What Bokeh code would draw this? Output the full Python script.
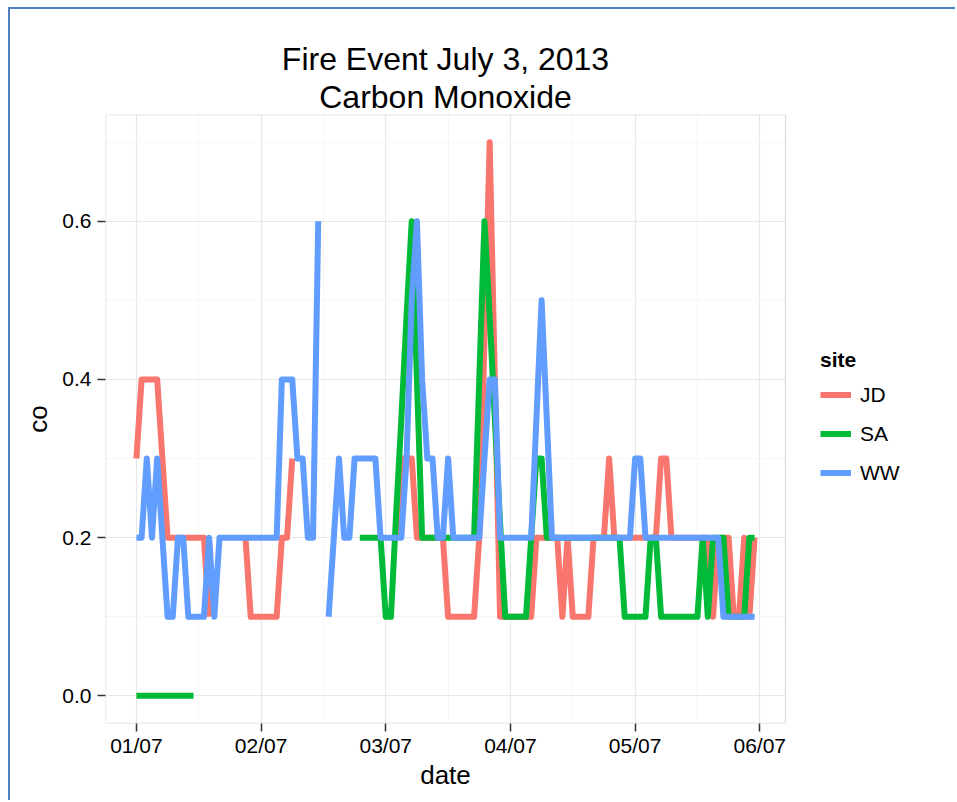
import numpy as np
import pandas as pd
from bokeh.plotting import figure
from bokeh.models import (ColumnDataSource, Range1d, FixedTicker, DatetimeTickFormatter,
                          PrintfTickFormatter, Legend, LegendItem, Title, BoxAnnotation)
from bokeh.embed import file_html
from bokeh.resources import INLINE

NA = np.nan

# ---------------- data (hourly CO readings, 1-5 July 2013) ----------------
start_time = "2013-07-01 00:00"
n_hours = 120

JD = [0.3, 0.4, 0.4, 0.4, 0.4, 0.3, 0.2, 0.2, 0.2, 0.2,
      0.2, 0.2, 0.2, 0.2, 0.1, NA, NA, NA, NA, NA,
      NA, 0.2, 0.1, 0.1, 0.1, 0.1, 0.1, 0.1, 0.2, 0.2,
      0.3, NA, NA, NA, NA, NA, NA, NA, NA, NA,
      NA, NA, NA, NA, NA, NA, NA, NA, NA, NA,
      0.2, 0.3, 0.3, 0.3, 0.2, 0.2, 0.2, 0.2, 0.2, 0.2,
      0.1, 0.1, 0.1, 0.1, 0.1, 0.1, 0.2, 0.45, 0.7, 0.4,
      0.1, 0.1, 0.1, 0.1, 0.1, 0.1, 0.1, 0.2, 0.2, 0.2,
      0.2, 0.2, 0.1, 0.2, 0.1, 0.1, 0.1, 0.1, 0.2, 0.2,
      0.2, 0.3, 0.2, 0.2, 0.2, 0.2, 0.2, 0.2, 0.2, 0.2,
      0.2, 0.3, 0.3, 0.2, 0.2, 0.2, 0.2, 0.2, 0.2, 0.2,
      0.2, 0.1, 0.2, 0.2, 0.2, 0.1, 0.1, 0.2, 0.1, 0.2]

SA = [0.0, 0.0, 0.0, 0.0, 0.0, 0.0, 0.0, 0.0, 0.0, 0.0,
      0.0, 0.0, NA, NA, NA, NA, NA, NA, NA, NA,
      NA, NA, NA, NA, NA, NA, NA, NA, NA, NA,
      NA, NA, NA, NA, NA, NA, NA, NA, NA, NA,
      NA, NA, NA, 0.2, 0.2, 0.2, 0.2, 0.2, 0.1, 0.1,
      0.23, 0.35, 0.48, 0.6, 0.4, 0.2, 0.2, 0.2, 0.2, 0.2,
      0.2, 0.2, 0.2, 0.2, 0.2, 0.2, 0.4, 0.6, 0.48, 0.35,
      0.22, 0.1, 0.1, 0.1, 0.1, 0.1, 0.2, 0.3, 0.3, 0.2,
      0.2, 0.2, 0.2, 0.2, 0.2, 0.2, 0.2, 0.2, 0.2, 0.2,
      0.2, 0.2, 0.2, 0.2, 0.1, 0.1, 0.1, 0.1, 0.1, 0.2,
      0.2, 0.1, 0.1, 0.1, 0.1, 0.1, 0.1, 0.1, 0.1, 0.2,
      0.1, 0.2, 0.2, 0.2, 0.1, 0.1, 0.1, 0.1, 0.2, 0.2]

WW = [0.2, 0.2, 0.3, 0.2, 0.3, 0.2, 0.1, 0.1, 0.2, 0.2,
      0.1, 0.1, 0.1, 0.1, 0.2, 0.1, 0.2, 0.2, 0.2, 0.2,
      0.2, 0.2, 0.2, 0.2, 0.2, 0.2, 0.2, 0.2, 0.4, 0.4,
      0.4, 0.3, 0.3, 0.2, 0.2, 0.6, NA, 0.1, 0.2, 0.3,
      0.2, 0.2, 0.3, 0.3, 0.3, 0.3, 0.3, 0.2, 0.2, 0.2,
      0.2, 0.2, 0.3, 0.5, 0.6, 0.4, 0.3, 0.3, 0.2, 0.2,
      0.3, 0.2, 0.2, 0.2, 0.2, 0.2, 0.2, 0.3, 0.4, 0.4,
      0.2, 0.2, 0.2, 0.2, 0.2, 0.2, 0.2, 0.35, 0.5, 0.35,
      0.2, 0.2, 0.2, 0.2, 0.2, 0.2, 0.2, 0.2, 0.2, 0.2,
      0.2, 0.2, 0.2, 0.2, 0.2, 0.2, 0.3, 0.3, 0.2, 0.2,
      0.2, 0.2, 0.2, 0.2, 0.2, 0.2, 0.2, 0.2, 0.2, 0.2,
      0.2, 0.2, 0.2, 0.1, 0.1, 0.1, 0.1, 0.1, 0.1, 0.1]

sites = ["JD", "SA", "WW"]
site_colors = ["#F8766D", "#00BA38", "#619CFF"]
title_line1 = "Fire Event July 3, 2013"
title_line2 = "Carbon Monoxide"
x_label = "date"
y_label = "co"
legend_title = "site"
y_major = [0.0, 0.2, 0.4, 0.6]
y_minor = [0.1, 0.3, 0.5, 0.7]

# ---------------- build ----------------
times = pd.date_range(start_time, periods=n_hours, freq="h")
src = ColumnDataSource(dict(time=times, JD=JD, SA=SA, WW=WW))

t_ms = times.asi8 // 10**6
t_min, t_max = float(t_ms.min()), float(t_ms.max())
xpad = 0.05 * (t_max - t_min)
panel_x0, panel_x1 = t_min - xpad, t_max + xpad          # ggplot-style padded panel
vals = np.array(JD + SA + WW, dtype=float)
y_lo, y_hi = np.nanmin(vals), np.nanmax(vals)
ypad = 0.05 * (y_hi - y_lo)

days = pd.date_range(times[0].normalize(), times[-1].normalize() + pd.Timedelta(days=1), freq="D")
x_major = list((days.asi8 // 10**6).astype(float))
x_minor = list(((days + pd.Timedelta(hours=12)).asi8 // 10**6).astype(float))

FONT = "Liberation Sans"
EDGE = "#4F81BD"

# canvas geometry: the frame also holds the legend strip on its right
W, H = 947, 793
LEFT, TOP, BOTTOM = 95, 105, 79
PANEL_W = 680                       # width of the data panel in pixels
FRAME_W = W - LEFT
x_end = panel_x0 + (panel_x1 - panel_x0) * FRAME_W / PANEL_W

# approximate text widths (Liberation Sans advance widths) to centre texts on the panel
ADV = {"F": .611, "i": .222, "r": .333, "e": .556, " ": .278, "E": .667, "v": .5, "n": .556,
       "t": .278, "J": .5, "u": .556, "l": .222, "y": .5, "3": .556, ",": .278, "2": .556,
       "0": .556, "1": .556, "C": .722, "a": .556, "b": .556, "o": .556, "M": .833, "x": .5,
       "d": .556}


def centred_offset(text, size):
    w = sum(ADV.get(ch, .556) for ch in text) * size
    return PANEL_W / 2 - w / 2


p = figure(width=W, height=H, x_axis_type="datetime",
           x_range=Range1d(panel_x0, x_end),
           y_range=Range1d(y_lo - ypad, y_hi + ypad),
           output_backend="svg", toolbar_location=None,
           min_border_left=LEFT, min_border_right=0, min_border_top=TOP, min_border_bottom=BOTTOM,
           background_fill_color="white", border_fill_color="white",
           styles={"margin-left": "8px", "margin-top": "7px",
                   "border-left": f"2px solid {EDGE}", "border-top": f"2px solid {EDGE}"})
p.outline_line_color = None

p.title.text = title_line1
p.title.text_font = FONT
p.title.text_font_size = "32px"
p.title.text_font_style = "normal"
p.title.text_color = "black"
p.title.align = "left"
p.title.standoff = 0
p.title.offset = centred_offset(title_line1, 32)
p.title.text_line_height = 0.95
p.add_layout(Title(text=title_line2, text_font=FONT, text_font_size="32px",
                   text_font_style="normal", text_color="black", align="left",
                   standoff=0, offset=centred_offset(title_line2, 32),
                   text_line_height=0.95), "above")

# grids
for g in (p.xgrid, p.ygrid):
    g.grid_line_color = "#E8E8E8"
    g.grid_line_width = 1.2
    g.minor_grid_line_color = "#F6F6F6"
    g.minor_grid_line_width = 1.2

p.xaxis.ticker = FixedTicker(ticks=x_major, minor_ticks=x_minor)
p.yaxis.ticker = FixedTicker(ticks=y_major, minor_ticks=y_minor)
p.xaxis.bounds = (panel_x0, panel_x1)
fmt = "%d/%m"
p.xaxis.formatter = DatetimeTickFormatter(milliseconds=fmt, seconds=fmt, minsec=fmt, minutes=fmt,
                                          hourmin=fmt, hours=fmt, days=fmt, months=fmt, years=fmt)
p.yaxis.formatter = PrintfTickFormatter(format="%.1f")
p.yaxis.axis_label = y_label

for ax in (p.xaxis, p.yaxis):
    ax.axis_line_color = None
    ax.major_tick_line_color = "#333333"
    ax.major_tick_line_width = 1.5
    ax.major_tick_out = 8
    ax.major_tick_in = 0
    ax.minor_tick_out = 0
    ax.minor_tick_in = 0
    ax.minor_tick_line_color = None
    ax.major_label_text_font = FONT
    ax.major_label_text_font_size = "21px"
    ax.major_label_text_color = "black"
    ax.axis_label_text_font = FONT
    ax.axis_label_text_font_size = "26px"
    ax.axis_label_text_font_style = "normal"
    ax.axis_label_text_color = "black"
p.xaxis.major_label_standoff = 2
p.yaxis.major_label_standoff = 6
p.yaxis.axis_label_standoff = 6

# x-axis title, centred under the data panel
p.add_layout(Title(text=x_label, text_font=FONT, text_font_size="26px",
                   text_font_style="normal", text_color="black", align="left",
                   standoff=-3, offset=centred_offset(x_label, 26)), "below")

renderers = []
for s, c in zip(sites, site_colors):
    r = p.line(x="time", y=s, source=src, line_color=c, line_width=6,
               line_join="round", line_cap="butt")
    renderers.append(r)

# white strip right of the data panel (legend area) and the grey panel border
p.add_layout(BoxAnnotation(left=panel_x1, fill_color="white", fill_alpha=1, line_color=None))
p.add_layout(BoxAnnotation(left=panel_x0, right=panel_x1, fill_alpha=0,
                           line_color="#8C8C8C", line_width=1.3))

legend = Legend(items=[LegendItem(label=s, renderers=[r]) for s, r in zip(sites, renderers)],
                title=legend_title, title_text_font=FONT, title_text_font_style="bold",
                title_text_font_size="21px", title_text_color="black", title_standoff=3,
                label_text_font=FONT, label_text_font_size="21px", label_text_color="black",
                glyph_width=31, glyph_height=39, label_standoff=9, spacing=0,
                padding=6, margin=0, border_line_color=None, background_fill_alpha=0,
                location=(PANEL_W + 35, 231))
p.add_layout(legend, "center")

open("out.html", "w").write(file_html(p, INLINE))
